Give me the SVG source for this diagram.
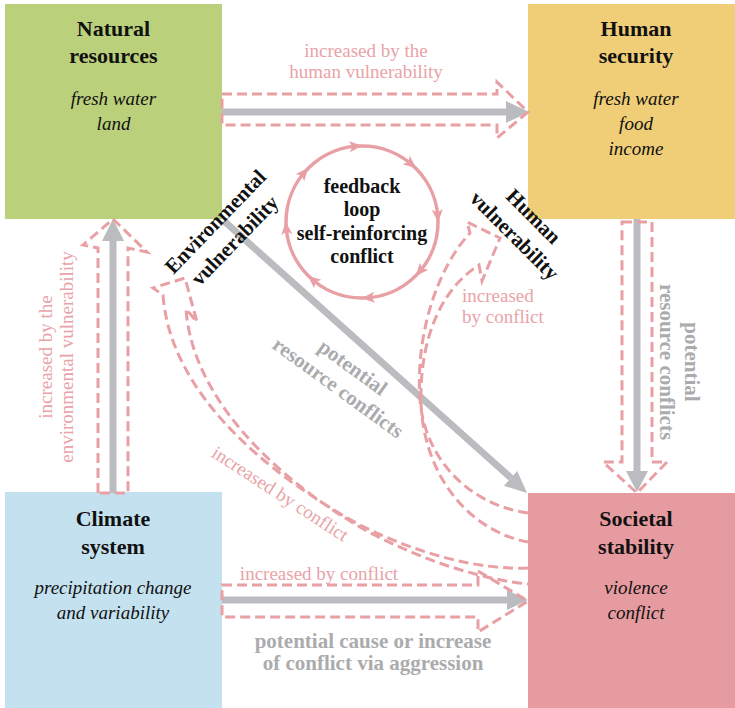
<svg xmlns="http://www.w3.org/2000/svg" width="735" height="708" viewBox="0 0 735 708">
<defs>
<style>
.title{font-family:"Liberation Serif",serif;font-weight:bold;font-size:22px;fill:#111;text-anchor:middle}
.sub{font-family:"Liberation Serif",serif;font-style:italic;font-size:19px;fill:#111;text-anchor:middle}
.gray{fill:none;stroke:#BBBCC0;stroke-width:7}
.grayhead{fill:#BBBCC0}
.dash{fill:none;stroke:#E8A0A5;stroke-width:3;stroke-dasharray:10 5}
.pl{font-family:"Liberation Serif",serif;font-size:19px;fill:#E9A3A8}
.gl{font-family:"Liberation Serif",serif;font-weight:bold;font-size:21px;fill:#ABABAD;text-anchor:middle}
.dl{font-family:"Liberation Serif",serif;font-weight:bold;font-size:21px;fill:#111;text-anchor:middle}
.loop{fill:none;stroke:#E8A0A5;stroke-width:3.5}
.lt{font-family:"Liberation Serif",serif;font-weight:bold;font-size:20px;fill:#111;text-anchor:middle}
</style>
<path id="ah" d="M7,0 L-6,-5.5 L-3,0 L-6,5.5 Z" fill="#E8A0A5"/>
</defs>

<g id="natural-resources">
<rect x="5" y="4" width="217" height="215" fill="#BBD07B"/>
<text class="title" x="113.5" y="36">Natural</text>
<text class="title" x="113.5" y="63">resources</text>
<text class="sub" x="113.5" y="105">fresh water</text>
<text class="sub" x="113.5" y="130">land</text>
</g>

<g id="human-security">
<rect x="528" y="4" width="207" height="215" fill="#F0CE78"/>
<text class="title" x="636" y="36">Human</text>
<text class="title" x="636" y="63">security</text>
<text class="sub" x="636" y="105">fresh water</text>
<text class="sub" x="636" y="130">food</text>
<text class="sub" x="636" y="155">income</text>
</g>

<g id="climate-system">
<rect x="5" y="492" width="217" height="216" fill="#C4E1EF"/>
<text class="title" x="113" y="526">Climate</text>
<text class="title" x="113" y="554">system</text>
<text class="sub" x="113" y="594">precipitation change</text>
<text class="sub" x="113" y="619">and variability</text>
</g>

<g id="societal-stability">
<rect x="528" y="493" width="207" height="215" fill="#E69BA0"/>
<text class="title" x="636" y="526">Societal</text>
<text class="title" x="636" y="554">stability</text>
<text class="sub" x="636" y="594">violence</text>
<text class="sub" x="636" y="619">conflict</text>
</g>

<g id="feedback-loop">
<circle class="loop" cx="362" cy="222" r="76"/>
<use href="#ah" transform="rotate(-95 362 222) translate(438 222) rotate(90)"/>
<use href="#ah" transform="rotate(-50 362 222) translate(438 222) rotate(90)"/>
<use href="#ah" transform="rotate(-5 362 222) translate(438 222) rotate(90)"/>
<use href="#ah" transform="rotate(40 362 222) translate(438 222) rotate(90)"/>
<use href="#ah" transform="rotate(85 362 222) translate(438 222) rotate(90)"/>
<use href="#ah" transform="rotate(130 362 222) translate(438 222) rotate(90)"/>
<use href="#ah" transform="rotate(175 362 222) translate(438 222) rotate(90)"/>
<use href="#ah" transform="rotate(220 362 222) translate(438 222) rotate(90)"/>
<text class="lt" x="362" y="193">feedback</text>
<text class="lt" x="362" y="216">loop</text>
<text class="lt" x="362" y="240">self-reinforcing</text>
<text class="lt" x="362" y="263">conflict</text>
</g>

<g id="connectors">
<!-- gray arrows -->
<line class="gray" x1="222" y1="112" x2="508" y2="112"/>
<polygon class="grayhead" points="506,101 529,112 506,123"/>
<line class="gray" x1="113" y1="493" x2="113" y2="240"/>
<polygon class="grayhead" points="102,241 113,219 124,241"/>
<line class="gray" x1="637" y1="219" x2="637" y2="472"/>
<polygon class="grayhead" points="626,471 637,492 648,471"/>
<line class="gray" x1="222" y1="600" x2="508" y2="600"/>
<polygon class="grayhead" points="507,590 528,600 507,610"/>
<line class="gray" x1="224" y1="221" x2="511" y2="478"/>
<polygon class="grayhead" points="503.9,485.7 527,493 517.3,470.9"/>

<!-- dashed outline arrows -->
<path class="dash" d="M222,94 H497 V82 L528,112 L497,138 V125 H222 Z"/>
<path class="dash" d="M98,493 V248 L83,245 L113,219 L147,252 L128,248 V493 Z"/>
<path class="dash" d="M622,222 H652 V462 H667 L637,493 L603,462 H622 Z"/>
<path class="dash" d="M222,585 H478 V571 L528,601 L478,632 V617 H222 Z"/>
<path class="dash" d="M528,513 C470,505 425,460 420,400 C415,330 440,265 470,233 L467,222 L500,238 L482,281 L479,265 C440,290 420,340 421,400 C422,470 465,530 528,542"/>
<path class="dash" d="M528,568 C480,570 420,555 360,525 C260,470 170,390 163,295 L153,288 L185,278 L197,322 L186,309 C192,395 270,475 365,530 C425,562 485,580 528,584"/>

<!-- labels -->
<text class="pl" x="366" y="57" text-anchor="middle">increased by the</text>
<text class="pl" x="366" y="78" text-anchor="middle">human vulnerability</text>
<g transform="translate(0,357) rotate(-90)">
<text class="pl" x="0" y="52" text-anchor="middle">increased by the</text>
<text class="pl" x="0" y="73" text-anchor="middle">environmental vulnerability</text>
</g>
<g transform="translate(700,362) rotate(90)">
<text class="gl" x="0" y="15">potential</text>
<text class="gl" x="0" y="40">resource conflicts</text>
</g>
<g transform="translate(345.5,377.5) rotate(36)">
<text class="gl" x="0" y="-5.5">potential</text>
<text class="gl" x="0" y="19.5">resource conflicts</text>
</g>
<g transform="translate(280,494) rotate(33)">
<text class="pl" x="0" y="6" text-anchor="middle">increased by conflict</text>
</g>
<text class="pl" x="319" y="580" text-anchor="middle">increased by conflict</text>
<text class="gl" x="373" y="648">potential cause or increase</text>
<text class="gl" x="373" y="670">of conflict via aggression</text>
<text class="pl" x="462" y="302">increased</text>
<text class="pl" x="462" y="323">by conflict</text>
<g transform="translate(225,231) rotate(-46)">
<text class="dl" x="0" y="-6.5">Environmental</text>
<text class="dl" x="0" y="20.5">vulnerability</text>
</g>
<g transform="translate(524,226) rotate(45)">
<text class="dl" x="0" y="-6.5">Human</text>
<text class="dl" x="0" y="20.5">vulnerability</text>
</g>
</g>
</svg>
